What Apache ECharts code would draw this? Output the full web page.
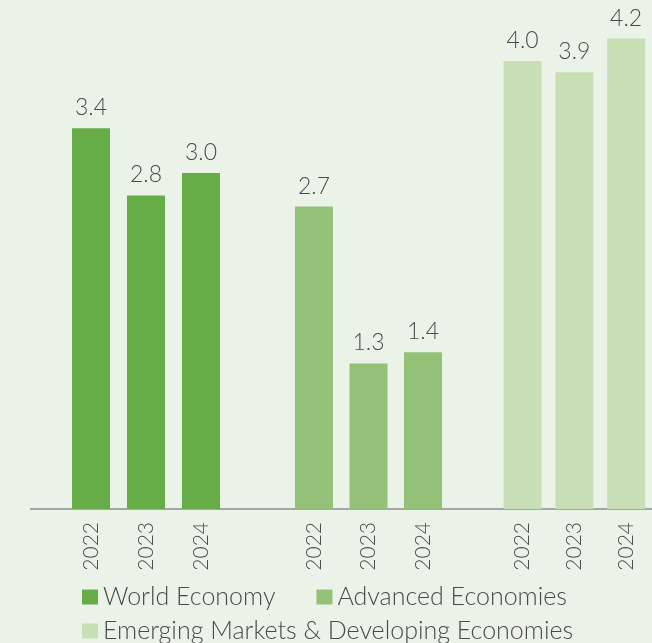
<!DOCTYPE html>
<html>
<head>
<meta charset="utf-8">
<script src="https://cdn.jsdelivr.net/npm/echarts@6/dist/echarts.min.js"></script>
<style>
  html, body { margin: 0; padding: 0; background: #EBF3E8; }
  #chart { width: 652px; height: 643px; }
</style>
</head>
<body>
<div id="chart"></div>
<script>
var years = ["2022", "2023", "2024"];
var seriesNames = ["World Economy", "Advanced Economies", "Emerging Markets & Developing Economies"];
var worldValues = [3.4, 2.8, 3.0];
var advancedValues = [2.7, 1.3, 1.4];
var emergingValues = [4.0, 3.9, 4.2];

var colors = ["#66AD47", "#93C178", "#C8DEB5"];
var FONT = "Lato";
var TEXT = "#4a4a4a";

function InitChart() {
  var myChart = echarts.init(document.getElementById("chart"));
  var groups = [worldValues, advancedValues, emergingValues];
  // one grid per group so the gaps between groups match
  var grids = [
    { left: 63.5, width: 165, top: 5, bottom: 134 },
    { left: 286.75, width: 163.5, top: 5, bottom: 134 },
    { left: 496.75, width: 163.5, top: 5, bottom: 134 },
  ];
  var xAxes = [], yAxes = [], series = [];
  groups.forEach(function (vals, i) {
    xAxes.push({
      type: "category",
      gridIndex: i,
      data: years,
      axisLine: { show: false },
      axisTick: { show: false },
      axisLabel: {
        rotate: 90,
        margin: 13,
        fontFamily: FONT,
        fontWeight: 300,
        fontSize: 21,
        color: TEXT,
      },
    });
    yAxes.push({
      type: "value",
      gridIndex: i,
      min: 0,
      max: 4.5,
      show: false,
      splitLine: { show: false },
    });
    series.push({
      name: seriesNames[i],
      type: "bar",
      xAxisIndex: i,
      yAxisIndex: i,
      data: vals,
      barWidth: 38,
      itemStyle: { color: colors[i] },
      label: {
        show: true,
        position: "top",
        distance: 9,
        fontFamily: FONT,
        fontWeight: 300,
        fontSize: 23,
        color: TEXT,
        formatter: function (p) {
          return p.value.toFixed(1);
        },
      },
    });
  });

  var legendText = { fontFamily: FONT, fontWeight: 300, fontSize: 25, color: TEXT, lineHeight: 26 };
  myChart.setOption({
    backgroundColor: "#EBF3E8",
    animation: false,
    grid: grids,
    xAxis: xAxes,
    yAxis: yAxes,
    legend: [
      {
        data: [seriesNames[0], seriesNames[1]],
        left: 77,
        top: 579,
        itemWidth: 16,
        itemHeight: 15,
        itemGap: 41,
        icon: "rect",
        textStyle: legendText,
      },
      {
        data: [seriesNames[2]],
        left: 77,
        top: 613,
        itemWidth: 16,
        itemHeight: 15,
        icon: "rect",
        textStyle: legendText,
      },
    ],
    graphic: [
      {
        type: "line",
        shape: { x1: 30, y1: 509, x2: 652, y2: 509 },
        style: { stroke: "#8c8c8c", lineWidth: 1.5 },
      },
    ],
    series: series,
  });
}

InitChart();
</script>
</body>
</html>
